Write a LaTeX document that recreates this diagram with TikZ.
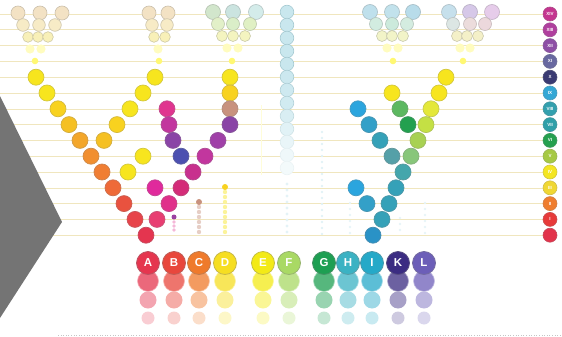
\documentclass[tikz,border=0pt]{standalone}
\usepackage{fontspec}
\setsansfont{Liberation Sans}
\usepackage{xcolor}
\usepackage{tikz}
\usetikzlibrary{calc}
% ball colours
\definecolor{ballyellow}{HTML}{F7E51E}
\definecolor{ballyolk}{HTML}{F8D21F}
\definecolor{ballgold}{HTML}{F5C023}
\definecolor{ballamber}{HTML}{F3A62A}
\definecolor{ballorange}{HTML}{F18F30}
\definecolor{ballorangeb}{HTML}{F07E33}
\definecolor{ballorangered}{HTML}{EE6A38}
\definecolor{ballred}{HTML}{E9523F}
\definecolor{ballredb}{HTML}{E7444A}
\definecolor{ballcrimson}{HTML}{E4354F}
\definecolor{ballpink}{HTML}{E0358F}
\definecolor{ballmagenta}{HTML}{C2369E}
\definecolor{ballplum}{HTML}{8A44A6}
\definecolor{ballpurple}{HTML}{A040A8}
\definecolor{ballindigo}{HTML}{4C50B0}
\definecolor{balltan}{HTML}{C8927E}
\definecolor{ballmagb}{HTML}{C8308E}
\definecolor{balldeeppink}{HTML}{D42C78}
\definecolor{ballrose}{HTML}{E0308A}
\definecolor{ballpinkred}{HTML}{E83E72}
\definecolor{ballhot}{HTML}{E02A9C}
\definecolor{ballchartreuse}{HTML}{E4E83A}
\definecolor{balllime}{HTML}{C4E044}
\definecolor{ballapple}{HTML}{A8D152}
\definecolor{ballmint}{HTML}{88C67A}
\definecolor{ballsea}{HTML}{44A6AC}
\definecolor{ballteal}{HTML}{35A1B8}
\definecolor{balltealb}{HTML}{33A0C8}
\definecolor{ballazure}{HTML}{2A92C6}
\definecolor{ballleaf}{HTML}{5CB860}
\definecolor{ballgreen}{HTML}{23A04F}
\definecolor{ballcyan}{HTML}{2BA5DE}
\definecolor{ballslate}{HTML}{55A0A8}
% letter colours
\definecolor{lettA}{HTML}{E5364F}
\definecolor{lettB}{HTML}{E8473C}
\definecolor{lettC}{HTML}{EF7A2B}
\definecolor{lettD}{HTML}{F6DE22}
\definecolor{lettE}{HTML}{F3EA16}
\definecolor{lettF}{HTML}{A9D964}
\definecolor{lettG}{HTML}{1D9F52}
\definecolor{lettH}{HTML}{3BB2C3}
\definecolor{lettI}{HTML}{25A9C8}
\definecolor{lettK}{HTML}{3B2C82}
\definecolor{lettL}{HTML}{6C5EB8}
% row colours
\definecolor{rXIV}{HTML}{C4358F}
\definecolor{rXIII}{HTML}{B03F9E}
\definecolor{rXII}{HTML}{8D4EA5}
\definecolor{rXI}{HTML}{6868A0}
\definecolor{rX}{HTML}{3A3A72}
\definecolor{rIX}{HTML}{34A7D5}
\definecolor{rVIII}{HTML}{33A0AE}
\definecolor{rVII}{HTML}{2F9FA8}
\definecolor{rVI}{HTML}{25A04F}
\definecolor{rV}{HTML}{A6C944}
\definecolor{rIV}{HTML}{F4E622}
\definecolor{rIII}{HTML}{F0D733}
\definecolor{rII}{HTML}{EF7D2F}
\definecolor{rI}{HTML}{E73A3A}
\definecolor{rbot}{HTML}{E2334B}
% misc
\definecolor{rowline}{HTML}{F0E6BE}
\definecolor{chevgray}{HTML}{747474}
\definecolor{colblue}{HTML}{C9E7EE}
\definecolor{colrim}{HTML}{A6CAD2}

\begin{document}
\begin{tikzpicture}[x=1pt,y=-1pt,
    letterball/.style={circle, minimum size=23pt, inner sep=0pt, line width=0.8pt,
      text=white, font=\sffamily\bfseries\fontsize{11.5}{12}\selectfont},
    rowball/.style={circle, minimum size=14pt, inner sep=0pt, line width=0.6pt,
      text=white, font=\sffamily\bfseries\fontsize{4.5}{5}\selectfont}]
  \useasboundingbox (0,0) rectangle (562,337);

  % row lines
  \foreach \k in {0,...,14}
    \draw[rowline, line width=0.6pt] (0,{14+15.8*\k}) -- (543,{14+15.8*\k});

  % grey chevron
  \fill[chevgray] (0,96) -- (62,222) -- (0,318) -- cycle;

  % fading top triangles
  \foreach \x/\y/\r/\c in {18/13/7/F3E2C4, 40/13/7/F3E2C4, 62/13/7/F3E2C4,
      23/25/6.3/F7EBC6, 39/25/6.3/F7EBC6, 55/25/6.3/F7EBC6,
      28/37/5.3/F8F0B8, 38/37/5.3/F8F0B8, 48/37/5.3/F8F0B8,
      149/13/7/F3E2C4, 168/13/7/F3E2C4, 152/25/6.3/F7EBC6, 167/25/6.3/F7EBC6,
      154/37/5.3/F8F0B8, 165/37/5.3/F8F0B8,
      213/12/7.5/D2E6CC, 233/12/7.5/CBE4E0, 256/12/7.5/D4ECEA,
      218/24/6.5/E2F0C8, 233/24/6.5/DAEEC8, 250/24/6.5/E0F0C4,
      222/36/5.5/F4F4C0, 233/36/5.5/F4F4C0, 245/36/5.5/F4F4C0,
      370/12/7.5/BFE0EC, 392/12/7.5/C2E2EC, 413/12/7.5/B8DCEA,
      376/24/6.5/D2ECE0, 392/24/6.5/CCEADC, 407/24/6.5/D4ECE0,
      382/36/5.5/F2F4C8, 392/36/5.5/F2F4C8, 403/36/5.5/F2F4C8,
      449/12/7.5/C6E0EC, 470/12/7.5/D6C8E8, 492/12/7.5/E6CCEA,
      453/24/6.5/DCE6E4, 470/24/6.5/ECDCDC, 485/24/6.5/ECD8DC,
      457/36/5.5/F4F0C8, 467/36/5.5/F4F0C8, 478/36/5.5/F4F0C8}
  {
    \definecolor{tmp}{HTML}{\c}
    \filldraw[fill=tmp, draw=tmp!65!gray, line width=0.6pt] (\x,\y) circle (\r);
  }
  \foreach \x/\y in {30/49, 41/49, 158/49, 227/48, 238/48, 387/48, 398/48, 460/48, 470/48}
    \fill[yellow!25!white] (\x,\y) circle (4.6);
  \foreach \x in {35, 159, 232, 393, 463}
    \fill[yellow!55!white] (\x,61) circle (3.3);

  % centre column
  \foreach \i/\p in {0/100,1/100,2/100,3/100,4/100,5/95,6/90,7/85,8/70,9/55,10/40,11/30,12/22}
    \filldraw[fill=colblue!\p!white, draw=colrim!\p!white, line width=0.6pt] (287,{12+13*\i}) circle (6.8);
  \foreach \y in {184,190,...,232}
    \fill[colblue!50!white] (287,\y) circle (1.6);

  % small stacks
  \fill[ballplum!80!ballpink] (174,217) circle (2.5);
  \foreach \y in {222,226,230} \fill[ballpink!35!white] (174,\y) circle (1.9);
  \fill[balltan] (199,202) circle (3);
  \foreach \y in {207,212,...,232} \fill[balltan!45!white] (199,\y) circle (2.2);
  \fill[ballyolk] (225,187) circle (3);
  \foreach \y in {192,197,...,232} \fill[ballyellow!45!white] (225,\y) circle (2.2);
  \draw[yellow!15!white, line width=0.8pt] (261,105) -- (261,175);
  \foreach \y in {132,138,...,234} \fill[colblue!55!white] (322,\y) circle (1.3);
  \foreach \y in {203,209,...,237} \fill[colblue!45!white] (350,\y) circle (1.3);
  \foreach \y in {218,224,230} \fill[colblue!45!white] (400,\y) circle (1.3);
  \foreach \y in {203,209,...,235} \fill[colblue!45!white] (425,\y) circle (1.3);

  % left V
  \foreach \x/\k/\c in {36/4/ballyellow, 47/5/ballyellow, 58/6/ballyolk, 69/7/ballgold,
      80/8/ballamber, 91/9/ballorange, 102/10/ballorangeb, 113/11/ballorangered,
      124/12/ballred, 135/13/ballredb, 146/14/ballcrimson,
      155/4/ballyellow, 143/5/ballyellow, 130/6/ballyellow, 117/7/ballyolk, 104/8/ballgold,
      143/9/ballyellow, 128/10/ballyellow}
    \filldraw[fill=\c, draw=\c!70!gray, line width=0.7pt] (\x,{14+15.8*\k}) circle (8);

  % purple V
  \foreach \x/\k/\c in {167/6/ballpink, 169/7/ballmagenta, 173/8/ballplum, 181/9/ballindigo,
      230/4/ballyellow, 230/5/ballyolk, 230/6/balltan, 230/7/ballplum, 218/8/ballpurple,
      205/9/ballmagenta, 193/10/ballmagb, 181/11/balldeeppink, 169/12/ballrose,
      157/13/ballpinkred, 155/11/ballhot}
    \filldraw[fill=\c, draw=\c!70!gray, line width=0.7pt] (\x,{14+15.8*\k}) circle (8);

  % right V
  \foreach \x/\k/\c in {446/4/ballyellow, 439/5/ballyellow, 431/6/ballchartreuse, 426/7/balllime,
      418/8/ballapple, 411/9/ballmint, 403/10/ballsea, 396/11/ballteal, 389/12/ballteal,
      382/13/ballteal, 373/14/ballazure,
      392/5/ballyellow, 400/6/ballleaf, 408/7/ballgreen,
      358/6/ballcyan, 369/7/balltealb, 380/8/ballteal, 392/9/ballslate,
      356/11/ballcyan, 367/12/balltealb}
    \filldraw[fill=\c, draw=\c!70!gray, line width=0.7pt] (\x,{14+15.8*\k}) circle (8);

  % row markers
  \foreach \lab/\k in {XIV/0, XIII/1, XII/2, XI/3, X/4, IX/5, VIII/6, VII/7, VI/8, V/9,
      IV/10, III/11, II/12, I/13}
    \node[rowball, fill=r\lab, draw=r\lab!70!gray] (r\lab) at (550,{14+15.8*\k}) {\lab};
  \node[rowball, fill=rbot, draw=rbot!70!gray] (rbot) at (550,235.2) {};

  % letter balls with fading copies
  \foreach \n/\x in {A/148, B/174, C/199, D/225, E/263, F/289, G/324, H/348, I/372, K/398, L/424} {
    \fill[lett\n!25!white] (\x,318) circle (6.5);
    \fill[lett\n!45!white] (\x,300) circle (8.5);
    \filldraw[fill=lett\n!75!white, draw=lett\n!40!white, line width=0.6pt] (\x,281) circle (10.5);
    \node[letterball, fill=lett\n, draw=lett\n!60!gray] (\n) at (\x,263) {\n};
  }

  % bottom rule
  \draw[gray!45, dotted, line width=0.6pt] (58,335) -- (562,335);
\end{tikzpicture}
\end{document}
